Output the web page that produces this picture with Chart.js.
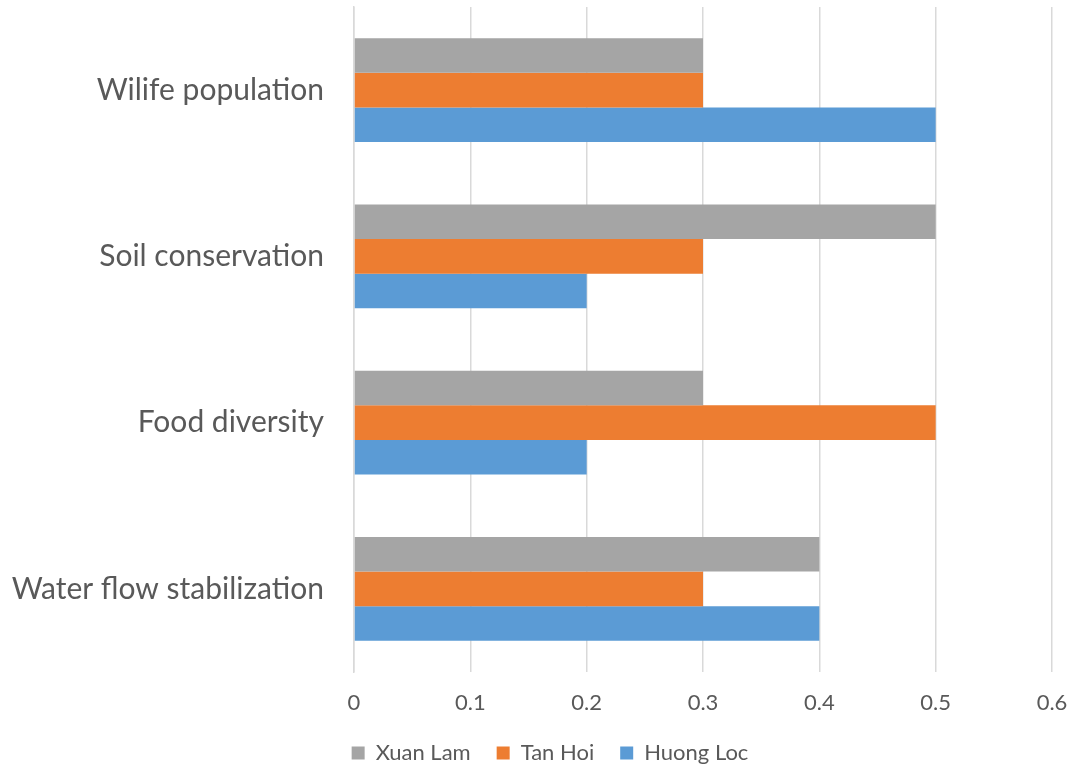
<!DOCTYPE html>
<html>
<head>
<meta charset="utf-8">
<script src="https://cdn.jsdelivr.net/npm/chart.js@4"></script>
<style>
  html, body { margin: 0; padding: 0; background: #fff; }
  #chart { display: block; }
</style>
</head>
<body>
<canvas id="chart" width="1073" height="769"></canvas>
<script>
// categories, top to bottom as drawn
const categories = ["Wilife population", "Soil conservation", "Food diversity", "Water flow stabilization"];

// series values
const xuanLam = [0.3, 0.5, 0.3, 0.4];
const tanHoi = [0.3, 0.3, 0.5, 0.3];
const huongLoc = [0.5, 0.2, 0.2, 0.4];

// value axis
const xMin = 0;
const xMax = 0.6;
const xStep = 0.1;

const textColor = "#595959";
const gridColor = "#d9d9d9";

// nudge the legend a little to the right, the way Excel places it
const legendShift = {
  id: "legendShift",
  afterLayout(chart) {
    const lg = chart.legend;
    lg.left += 24;
    lg.right += 24;
  }
};

new Chart(document.getElementById("chart"), {
  type: "bar",
  data: {
    labels: categories,
    datasets: [
      { label: "Xuan Lam", data: xuanLam, backgroundColor: "#A5A5A5" },
      { label: "Tan Hoi", data: tanHoi, backgroundColor: "#ED7D31" },
      { label: "Huong Loc", data: huongLoc, backgroundColor: "#5B9BD5" }
    ]
  },
  plugins: [legendShift],
  options: {
    indexAxis: "y",
    responsive: false,
    animation: false,
    categoryPercentage: 0.625,
    barPercentage: 1,
    layout: { padding: { top: 7, right: 21, left: 0, bottom: 0 } },
    plugins: {
      tooltip: { enabled: false },
      legend: {
        position: "bottom",
        maxHeight: 53,
        labels: {
          color: textColor,
          font: { family: "Lato", size: 22 },
          boxWidth: 13,
          boxHeight: 13,
          padding: 26
        }
      }
    },
    scales: {
      x: {
        min: xMin,
        max: xMax,
        ticks: {
          stepSize: xStep,
          color: textColor,
          font: { family: "Lato", size: 22 },
          padding: 18,
          callback: v => String(Math.round(v * 10) / 10)
        },
        grid: { color: gridColor, lineWidth: 1.5, drawTicks: false },
        border: { display: false },
        afterFit: axis => {
          axis.height = 44;
          axis.paddingLeft = 0;
          axis.paddingRight = 0;
        }
      },
      y: {
        ticks: {
          color: textColor,
          font: { family: "Lato", size: 30 },
          padding: 30
        },
        grid: { display: false, drawTicks: false },
        border: { color: gridColor, width: 1.5 },
        afterFit: axis => {
          axis.width = 354;
          axis.paddingTop = 0;
          axis.paddingBottom = 0;
        }
      }
    }
  }
});
</script>
</body>
</html>
